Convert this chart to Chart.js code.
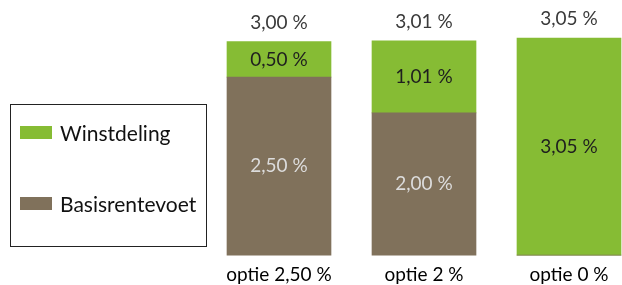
<!DOCTYPE html>
<html>
<head>
<meta charset="utf-8">
<script src="https://cdn.jsdelivr.net/npm/chart.js@4/dist/chart.umd.min.js"></script>
<style>
  html, body { margin: 0; padding: 0; background: #fff; }
  #wrap { position: relative; width: 622px; height: 285px; }
  #legend {
    position: absolute; left: 10px; top: 104px; width: 197px; height: 143px;
    border: 1px solid #222; box-sizing: border-box;
    font-family: Lato, "Open Sans", sans-serif; font-size: 21px; color: #111;
  }
  #legend .item { position: absolute; left: 9px; display: flex; align-items: center; }
  #legend .sw { width: 32px; height: 13px; margin-right: 8px; }
</style>
</head>
<body>
<div id="wrap">
  <canvas id="chart" width="622" height="285"></canvas>
  <div id="legend"></div>
</div>
<script>
// ── Data ─────────────────────────────────────────────────
const categories = ["optie 2,50 %", "optie 2 %", "optie 0 %"];
const basisrentevoet = [2.50, 2.00, 0];
const winstdeling = [0.50, 1.01, 3.05];

const GREEN = "#86bc34";
const BROWN = "#80715b";

function pct(v) {
  return v.toFixed(2).replace(".", ",") + " %";
}

// ── Labels plugin ────────────────────────────────────────
const labelPlugin = {
  id: "barLabels",
  afterDatasetsDraw(chart) {
    const ctx = chart.ctx;
    ctx.save();
    ctx.textAlign = "center";
    ctx.textBaseline = "middle";
    ctx.font = "19px Lato, 'Open Sans', sans-serif";

    chart.data.datasets.forEach((ds, di) => {
      const meta = chart.getDatasetMeta(di);
      meta.data.forEach((bar, i) => {
        const v = ds.data[i];
        if (!v) return;
        ctx.fillStyle = ds.labelColor;
        ctx.fillText(pct(v), bar.x, (bar.y + bar.base) / 2);
      });
    });

    // totals above bars
    const top = chart.getDatasetMeta(chart.data.datasets.length - 1);
    ctx.fillStyle = "#3a3a3a";
    categories.forEach((c, i) => {
      const total = basisrentevoet[i] + winstdeling[i];
      ctx.fillText(pct(total), top.data[i].x, top.data[i].y - 19);
    });
    ctx.restore();
  }
};

const chart = new Chart(document.getElementById("chart"), {
  type: "bar",
  data: {
    labels: categories,
    datasets: [
      {
        label: "Basisrentevoet",
        data: basisrentevoet,
        backgroundColor: BROWN,
        labelColor: "#dcdcdc",
        clip: false
      },
      {
        label: "Winstdeling",
        data: winstdeling,
        backgroundColor: GREEN,
        labelColor: "#1f1f1f",
        clip: false
      }
    ]
  },
  options: {
    responsive: false,
    animation: false,
    barThickness: 104,
    layout: { padding: { left: 279, right: 53, top: 6, bottom: -9 } },
    plugins: {
      legend: { display: false },
      tooltip: { enabled: false }
    },
    scales: {
      x: {
        stacked: true,
        offset: false,
        grid: { display: false, drawTicks: false },
        border: { display: false },
        ticks: {
          padding: 8,
          color: "#000",
          font: { family: "Lato, 'Open Sans', sans-serif", size: 19 }
        }
      },
      y: {
        stacked: true,
        display: false,
        min: 0,
        max: 3.5
      }
    }
  },
  plugins: [labelPlugin]
});

// ── HTML legend ──────────────────────────────────────────
const legendEl = document.getElementById("legend");
[...chart.data.datasets].reverse().forEach((ds, i) => {
  const item = document.createElement("div");
  item.className = "item";
  item.style.top = (i === 0 ? 15 : 86) + "px";
  item.innerHTML = `<span class="sw" style="background:${ds.backgroundColor}"></span><span>${ds.label}</span>`;
  legendEl.appendChild(item);
});
</script>
</body>
</html>
